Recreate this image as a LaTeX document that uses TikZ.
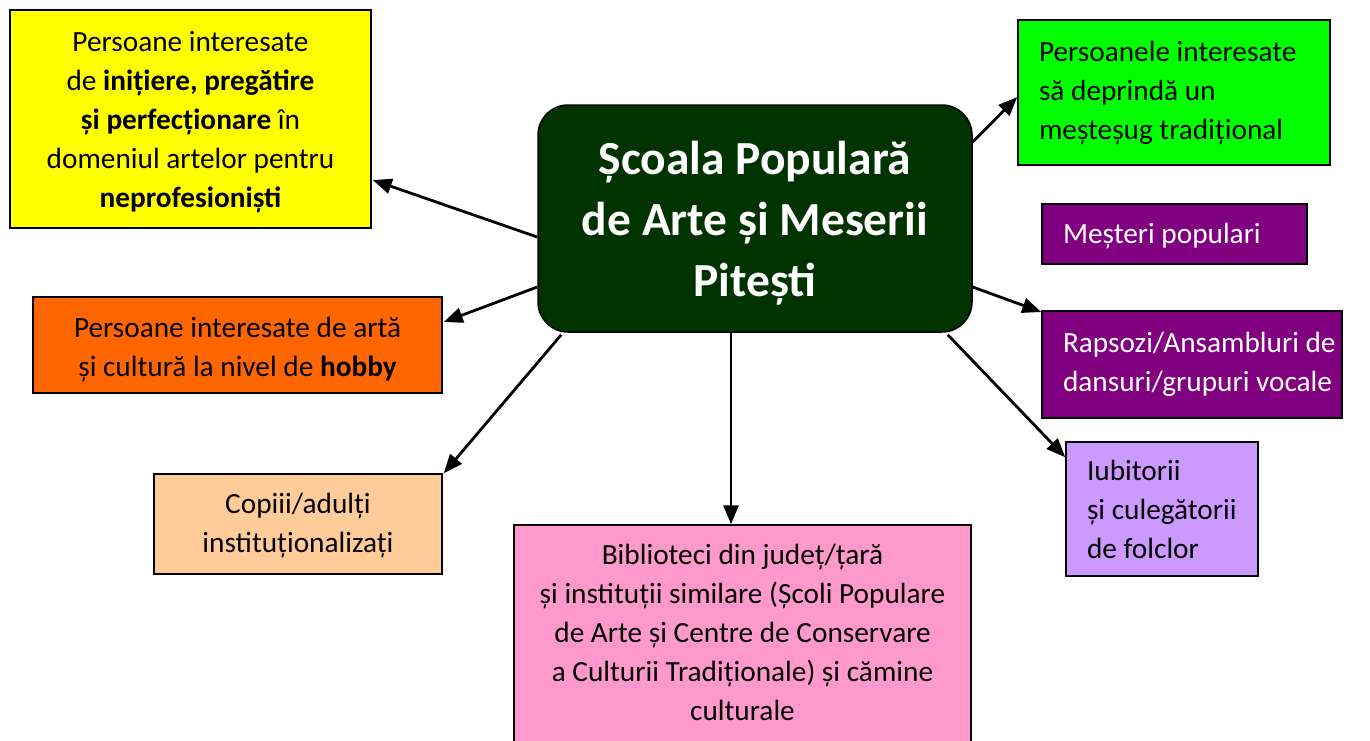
\documentclass[tikz,border=0pt]{standalone}
\usepackage{fontspec}
\setmainfont{Carlito}
\usetikzlibrary{calc,arrows.meta}
\definecolor{cdark}{HTML}{003300}
\definecolor{cyel}{HTML}{FFFF00}
\definecolor{corange}{HTML}{FF6600}
\definecolor{cpeach}{HTML}{FFCC99}
\definecolor{cpink}{HTML}{FF99CC}
\definecolor{cgreen}{HTML}{00FF00}
\definecolor{cpurple}{HTML}{800080}
\definecolor{clav}{HTML}{CC99FF}
\newcommand\mytc[2]{\raisebox{#1}[\height][\depth]{\begin{tabular}{@{}c@{}}#2\end{tabular}}}
\newcommand\mytl[3]{\raisebox{#1}[\height][\depth]{\makebox[#2][l]{\begin{tabular}{@{}l@{}}#3\end{tabular}}}}
\tikzset{
  box/.style={draw=black, line width=1.5pt, inner sep=0pt,
    font=\fontsize{29.3}{39}\selectfont},
  hub/.style={draw=black, line width=1.5pt, fill=cdark, rounded corners=30pt,
    text=white, font=\fontsize{47.5}{61}\selectfont\bfseries, inner sep=0pt},
  arr/.style={line width=2.8pt, -{Triangle[length=19pt,width=15pt]}}
}
\begin{document}
\begin{tikzpicture}[x=1pt,y=-1pt]
\useasboundingbox (0,0) rectangle (1370,740);
\clip (0,0) rectangle (1370,740);
\node[hub, minimum width=434pt, minimum height=227pt] (c) at (755,218.5)
  {\mytc{-5pt}{Școala Populară\\de Arte și Meserii\\Pitești}};
\node[box, fill=cyel, minimum width=361pt, minimum height=218pt] (y) at (190.5,119)
  {\mytc{-3pt}{Persoane interesate\\de \textbf{inițiere, pregătire}\\\textbf{și perfecționare} în\\domeniul artelor pentru\\\textbf{neprofesioniști}}};
\node[box, fill=corange, minimum width=409pt, minimum height=96pt] (o) at (237.5,345)
  {\mytc{-4pt}{Persoane interesate de artă\\și cultură la nivel de \textbf{hobby}}};
\node[box, fill=cpeach, minimum width=288pt, minimum height=100pt] (pe) at (298,524)
  {\mytc{-1pt}{Copiii/adulți\\instituționalizați}};
\node[box, fill=cpink, minimum width=457pt, minimum height=224pt] (pk) at (742.5,637)
  {\mytc{2pt}{Biblioteci din județ/țară\\și instituții similare (Școli Populare\\de Arte și Centre de Conservare\\a Culturii Tradiționale) și cămine\\culturale}};
\node[box, fill=cgreen, minimum width=312pt, minimum height=145pt] (g) at (1174,92.5)
  {\mytl{0pt}{270pt}{Persoanele interesate\\să deprindă un\\meșteșug tradițional}};
\node[box, fill=cpurple, text=white, minimum width=265pt, minimum height=60pt] (m) at (1174.5,234)
  {\mytl{-2pt}{223pt}{Meșteri populari}};
\node[box, fill=cpurple, text=white, minimum width=300pt, minimum height=107pt] (r) at (1192,364.5)
  {\mytl{0pt}{258pt}{Rapsozi/Ansambluri de\\dansuri/grupuri vocale}};
\node[box, fill=clav, minimum width=192pt, minimum height=134pt] (l) at (1162,509)
  {\mytl{-3pt}{150pt}{Iubitorii\\și culegătorii\\de folclor}};
\draw[arr] ($(c.west)+(0,18.5)$) -- ($(y.east)+(1,61)$);
\draw[arr] ($(c.west)+(0,68.5)$) -- ($(o.east)+(1,-23)$);
\draw[arr] ($(c.south west)+(24,2)$) -- ($(pe.north east)+(1,0)$);
\draw[arr] ($(c.south)+(-24,0)$) coordinate (cs) -- (cs |- pk.north);
\draw[arr] ($(c.east)+(0,-76.5)$) -- ($(g.west)+(0,4.5)$);
\draw[arr] ($(c.east)+(0,68.5)$) -- ($(r.west)+(0,-52.5)$);
\draw[arr] ($(c.south east)+(-25,2)$) -- ($(l.north west)+(0,16)$);
\end{tikzpicture}
\end{document}
